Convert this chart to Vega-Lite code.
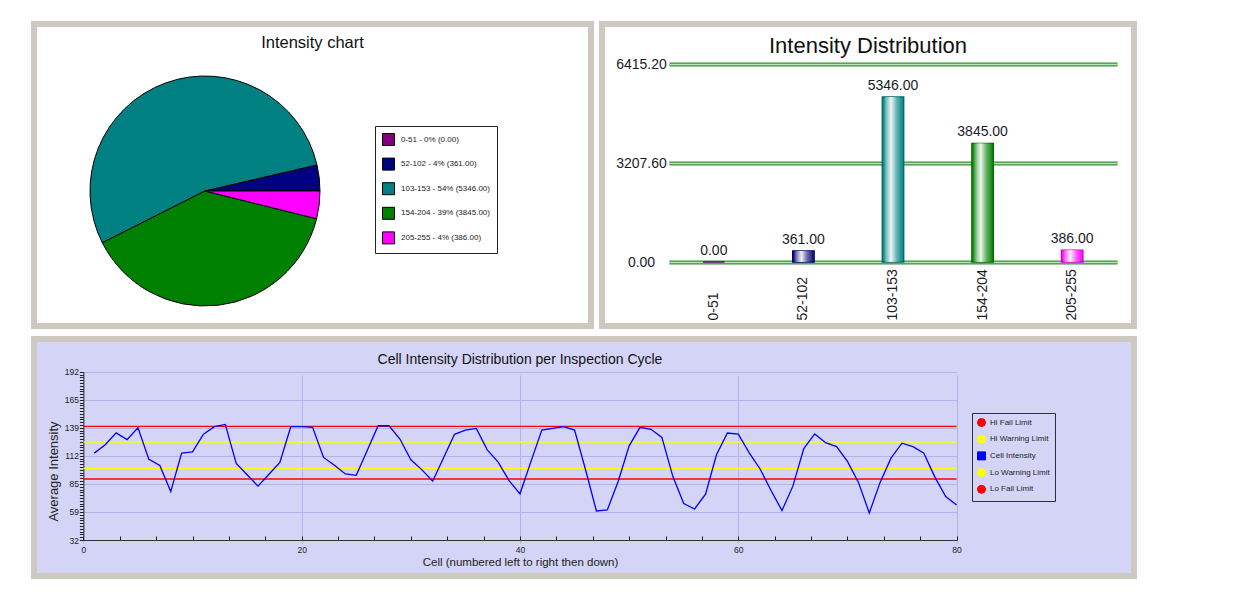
{
  "$schema": "https://vega.github.io/schema/vega-lite/v6.json",
  "background": "white",
  "padding": {"left": 31, "top": 21, "right": 5, "bottom": 5},
  "spacing": 7,
  "datasets": {
    "hist": [
      {"range": "0-51", "count": 0, "label": "0-51 - 0% (0.00)"},
      {"range": "52-102", "count": 361, "label": "52-102 - 4% (361.00)"},
      {"range": "103-153", "count": 5346, "label": "103-153 - 54% (5346.00)"},
      {"range": "154-204", "count": 3845, "label": "154-204 - 39% (3845.00)"},
      {"range": "205-255", "count": 386, "label": "205-255 - 4% (386.00)"}
    ],
    "cycle": [
      {"series": "Hi Fail Limit", "cell": 0, "value": 140},
      {"series": "Hi Fail Limit", "cell": 80, "value": 140},
      {"series": "Hi Warning Limit", "cell": 0, "value": 125},
      {"series": "Hi Warning Limit", "cell": 80, "value": 125},
      {"series": "Lo Warning Limit", "cell": 0, "value": 100},
      {"series": "Lo Warning Limit", "cell": 80, "value": 100},
      {"series": "Lo Fail Limit", "cell": 0, "value": 90},
      {"series": "Lo Fail Limit", "cell": 80, "value": 90},
      {"series": "Cell Intensity", "cell": 1, "value": 114.6},
      {"series": "Cell Intensity", "cell": 2, "value": 122.5},
      {"series": "Cell Intensity", "cell": 3, "value": 133.8},
      {"series": "Cell Intensity", "cell": 4, "value": 127.4},
      {"series": "Cell Intensity", "cell": 5, "value": 138.7},
      {"series": "Cell Intensity", "cell": 6, "value": 108.6},
      {"series": "Cell Intensity", "cell": 7, "value": 102.8},
      {"series": "Cell Intensity", "cell": 8, "value": 78.0},
      {"series": "Cell Intensity", "cell": 9, "value": 114.6},
      {"series": "Cell Intensity", "cell": 10, "value": 115.8},
      {"series": "Cell Intensity", "cell": 11, "value": 132.6},
      {"series": "Cell Intensity", "cell": 12, "value": 139.7},
      {"series": "Cell Intensity", "cell": 13, "value": 141.9},
      {"series": "Cell Intensity", "cell": 14, "value": 104.8},
      {"series": "Cell Intensity", "cell": 15, "value": 94.0},
      {"series": "Cell Intensity", "cell": 16, "value": 83.2},
      {"series": "Cell Intensity", "cell": 17, "value": 94.5},
      {"series": "Cell Intensity", "cell": 18, "value": 105.8},
      {"series": "Cell Intensity", "cell": 19, "value": 139.7},
      {"series": "Cell Intensity", "cell": 20, "value": 139.7},
      {"series": "Cell Intensity", "cell": 21, "value": 139.1},
      {"series": "Cell Intensity", "cell": 22, "value": 110.5},
      {"series": "Cell Intensity", "cell": 23, "value": 103.0},
      {"series": "Cell Intensity", "cell": 24, "value": 94.8},
      {"series": "Cell Intensity", "cell": 25, "value": 93.5},
      {"series": "Cell Intensity", "cell": 26, "value": 117.0},
      {"series": "Cell Intensity", "cell": 27, "value": 140.6},
      {"series": "Cell Intensity", "cell": 28, "value": 140.6},
      {"series": "Cell Intensity", "cell": 29, "value": 128.0},
      {"series": "Cell Intensity", "cell": 30, "value": 108.3},
      {"series": "Cell Intensity", "cell": 31, "value": 98.9},
      {"series": "Cell Intensity", "cell": 32, "value": 87.9},
      {"series": "Cell Intensity", "cell": 33, "value": 110.2},
      {"series": "Cell Intensity", "cell": 34, "value": 132.5},
      {"series": "Cell Intensity", "cell": 35, "value": 136.5},
      {"series": "Cell Intensity", "cell": 36, "value": 138.1},
      {"series": "Cell Intensity", "cell": 37, "value": 117.7},
      {"series": "Cell Intensity", "cell": 38, "value": 106.1},
      {"series": "Cell Intensity", "cell": 39, "value": 88.5},
      {"series": "Cell Intensity", "cell": 40, "value": 75.9},
      {"series": "Cell Intensity", "cell": 41, "value": 106.5},
      {"series": "Cell Intensity", "cell": 42, "value": 136.5},
      {"series": "Cell Intensity", "cell": 43, "value": 138.1},
      {"series": "Cell Intensity", "cell": 44, "value": 139.7},
      {"series": "Cell Intensity", "cell": 45, "value": 136.5},
      {"series": "Cell Intensity", "cell": 46, "value": 99.0},
      {"series": "Cell Intensity", "cell": 47, "value": 59.6},
      {"series": "Cell Intensity", "cell": 48, "value": 60.6},
      {"series": "Cell Intensity", "cell": 49, "value": 87.9},
      {"series": "Cell Intensity", "cell": 50, "value": 121.5},
      {"series": "Cell Intensity", "cell": 51, "value": 139.1},
      {"series": "Cell Intensity", "cell": 52, "value": 137.2},
      {"series": "Cell Intensity", "cell": 53, "value": 129.5},
      {"series": "Cell Intensity", "cell": 54, "value": 92.5},
      {"series": "Cell Intensity", "cell": 55, "value": 66.6},
      {"series": "Cell Intensity", "cell": 56, "value": 61.5},
      {"series": "Cell Intensity", "cell": 57, "value": 75.6},
      {"series": "Cell Intensity", "cell": 58, "value": 113.0},
      {"series": "Cell Intensity", "cell": 59, "value": 133.7},
      {"series": "Cell Intensity", "cell": 60, "value": 132.6},
      {"series": "Cell Intensity", "cell": 61, "value": 114.9},
      {"series": "Cell Intensity", "cell": 62, "value": 99.5},
      {"series": "Cell Intensity", "cell": 63, "value": 79.0},
      {"series": "Cell Intensity", "cell": 64, "value": 60.0},
      {"series": "Cell Intensity", "cell": 65, "value": 83.2},
      {"series": "Cell Intensity", "cell": 66, "value": 119.0},
      {"series": "Cell Intensity", "cell": 67, "value": 132.8},
      {"series": "Cell Intensity", "cell": 68, "value": 124.5},
      {"series": "Cell Intensity", "cell": 69, "value": 120.8},
      {"series": "Cell Intensity", "cell": 70, "value": 106.7},
      {"series": "Cell Intensity", "cell": 71, "value": 87.0},
      {"series": "Cell Intensity", "cell": 72, "value": 57.7},
      {"series": "Cell Intensity", "cell": 73, "value": 87.0},
      {"series": "Cell Intensity", "cell": 74, "value": 110.0},
      {"series": "Cell Intensity", "cell": 75, "value": 124.0},
      {"series": "Cell Intensity", "cell": 76, "value": 120.8},
      {"series": "Cell Intensity", "cell": 77, "value": 114.6},
      {"series": "Cell Intensity", "cell": 78, "value": 92.0},
      {"series": "Cell Intensity", "cell": 79, "value": 73.4},
      {"series": "Cell Intensity", "cell": 80, "value": 65.3}
    ]
  },
  "resolve": {"scale": {"color": "independent"}, "legend": {"color": "independent"}},
  "vconcat": [
    {
      "hconcat": [
        {
          "width": 557,
          "height": 302,
          "view": {"fill": "white", "stroke": "#cdc9c0", "strokeWidth": 6},
          "title": {"text": "Intensity chart", "fontSize": 16.5, "offset": -27},
          "data": {"name": "hist"},
          "mark": {"type": "arc", "radius": 115, "stroke": "black", "strokeWidth": 1},
          "encoding": {
            "theta": {"field": "count", "type": "quantitative", "stack": true, "scale": {"range": [1.342, 7.625]}},
            "order": {"field": "label", "type": "ordinal", "sort": "descending"},
            "x": {"datum": 0.307, "type": "quantitative", "scale": {"domain": [0, 1]}, "axis": null},
            "y": {"datum": 0.447, "type": "quantitative", "scale": {"domain": [0, 1]}, "axis": null},
            "color": {
              "field": "label",
              "type": "nominal",
              "sort": null,
              "scale": {"range": ["#800080", "#000080", "#008080", "#008000", "#ff00ff"]},
              "legend": {
                "orient": "none",
                "legendX": 341,
                "legendY": 102,
                "title": null,
                "fillColor": "white",
                "strokeColor": "#202020",
                "padding": 7,
                "rowPadding": 7.6,
                "symbolType": "square",
                "symbolSize": 144,
                "symbolStrokeColor": "black",
                "symbolStrokeWidth": 1,
                "labelFontSize": 8,
                "labelOffset": 6,
                "labelColor": "#222222"
              }
            }
          }
        },
        {
          "width": 532,
          "height": 302,
          "view": {"fill": "white", "stroke": "#cdc9c0", "strokeWidth": 6},
          "title": {"text": "Intensity Distribution", "fontSize": 22, "offset": -34},
          "data": {"name": "hist"},
          "encoding": {
            "x": {
              "field": "range",
              "type": "nominal",
              "sort": null,
              "scale": {"range": [67, 515], "paddingInner": 0, "paddingOuter": 0},
              "axis": {
                "orient": "bottom",
                "offset": -64,
                "title": null,
                "domain": false,
                "ticks": false,
                "labelAngle": -90,
                "labelAlign": "left",
                "labelBaseline": "middle",
                "labelPadding": 58,
                "labelFontSize": 14,
                "labelColor": "#1a1a2a",
                "labelOverlap": false
              }
            }
          },
          "layer": [
            {
              "mark": {"type": "bar", "width": 21.5, "strokeWidth": 1.3},
              "encoding": {
                "y": {
                  "field": "count",
                  "type": "quantitative",
                  "scale": {"domain": [0, 6415.2], "range": [238, 40], "nice": false},
                  "axis": {
                    "orient": "left",
                    "offset": -67,
                    "values": [0, 3207.6, 6415.2],
                    "format": ".2f",
                    "title": null,
                    "domain": false,
                    "ticks": false,
                    "labelAlign": "center",
                    "labelBaseline": "middle",
                    "labelPadding": 28,
                    "labelFontSize": 14,
                    "labelColor": "#1a1a2a",
                    "grid": true,
                    "gridColor": "#3a8f3a",
                    "gridWidth": 4
                  }
                },
                "color": {"field": "range", "type": "nominal", "sort": null, "scale": {"range": ["#800080", "#1a1a8a", "#138a8a", "#138a13", "#ff10ff"]}, "legend": null},
                "stroke": {"field": "range", "type": "nominal", "sort": null, "scale": {"range": ["#700070", "#000060", "#006868", "#006800", "#d000d0"]}, "legend": null}
              }
            },
            {
              "mark": {
                "type": "bar",
                "width": 19,
                "strokeWidth": 0,
                "color": {
                  "gradient": "linear",
                  "x1": 0, "y1": 0, "x2": 1, "y2": 0,
                  "stops": [
                    {"offset": 0, "color": "rgba(255,255,255,0)"},
                    {"offset": 0.15, "color": "rgba(255,255,255,0.45)"},
                    {"offset": 0.4, "color": "rgba(255,255,255,0.92)"},
                    {"offset": 0.7, "color": "rgba(255,255,255,0.35)"},
                    {"offset": 1, "color": "rgba(255,255,255,0)"}
                  ]
                }
              },
              "encoding": {
                "y": {
                  "field": "count",
                  "type": "quantitative",
                  "axis": {
                    "orient": "left",
                    "offset": -67,
                    "values": [0, 3207.6, 6415.2],
                    "title": null,
                    "domain": false,
                    "ticks": false,
                    "labels": false,
                    "grid": true,
                    "gridColor": "#b5e5b5",
                    "gridWidth": 1.5
                  }
                }
              }
            },
            {
              "mark": {"type": "text", "fontSize": 14, "baseline": "bottom", "dy": -4, "color": "#1a1a2a"},
              "encoding": {
                "y": {"field": "count", "type": "quantitative", "axis": null},
                "text": {"field": "count", "type": "quantitative", "format": ".2f"}
              }
            }
          ],
          "resolve": {"axis": {"y": "independent"}}
        }
      ],
      "spacing": 11,
      "bounds": "flush",
      "resolve": {"scale": {"color": "independent"}, "legend": {"color": "independent"}}
    },
    {
      "width": 1100,
      "height": 237,
      "view": {"fill": "#d4d4f6", "stroke": "#cdc9c0", "strokeWidth": 6},
      "title": {"text": "Cell Intensity Distribution per Inspection Cycle", "fontSize": 14, "offset": -28, "dx": -64},
      "data": {"name": "cycle"},
      "mark": {"type": "line", "strokeWidth": 1.3},
      "encoding": {
        "x": {
          "field": "cell",
          "type": "quantitative",
          "scale": {"domain": [0, 80], "range": [49.4, 922.6], "nice": false, "zero": false},
          "axis": {
            "offset": -36,
            "values": [0, 3.3333, 6.6667, 10, 13.3333, 16.6667, 20, 23.3333, 26.6667, 30, 33.3333, 36.6667, 40, 43.3333, 46.6667, 50, 53.3333, 56.6667, 60, 63.3333, 66.6667, 70, 73.3333, 76.6667, 80],
            "labelExpr": "abs(datum.value / 20 - round(datum.value / 20)) < 0.01 ? format(datum.value, 'd') : ''",
            "grid": true,
            "gridColor": "#b3b3ec",
            "gridOpacity": {"condition": {"test": "abs(datum.value / 20 - round(datum.value / 20)) < 0.01", "value": 1}, "value": 0},
            "tickSize": -4,
            "tickColor": "#222222",
            "domainColor": "#333333",
            "labelFontSize": 8.5,
            "labelPadding": 9,
            "labelColor": "#222222",
            "labelOverlap": false,
            "labelFlush": false,
            "title": "Cell (numbered left to right then down)",
            "titleFontSize": 11.5,
            "titleFontWeight": "normal",
            "titleColor": "#222222",
            "titlePadding": 3
          }
        },
        "y": {
          "field": "value",
          "type": "quantitative",
          "scale": {"domain": [32, 192], "range": [201, 32.7], "nice": false, "zero": false},
          "axis": {
            "offset": -49.4,
            "values": [32, 34.6667, 37.3333, 40, 42.6667, 45.3333, 48, 50.6667, 53.3333, 56, 58.6667, 61.3333, 64, 66.6667, 69.3333, 72, 74.6667, 77.3333, 80, 82.6667, 85.3333, 88, 90.6667, 93.3333, 96, 98.6667, 101.3333, 104, 106.6667, 109.3333, 112, 114.6667, 117.3333, 120, 122.6667, 125.3333, 128, 130.6667, 133.3333, 136, 138.6667, 141.3333, 144, 146.6667, 149.3333, 152, 154.6667, 157.3333, 160, 162.6667, 165.3333, 168, 170.6667, 173.3333, 176, 178.6667, 181.3333, 184, 186.6667, 189.3333, 192],
            "labelExpr": "abs((datum.value - 32) / 26.66667 - round((datum.value - 32) / 26.66667)) < 0.01 ? format(datum.value, '.0f') : ''",
            "grid": true,
            "gridColor": "#b3b3ec",
            "gridOpacity": {"condition": {"test": "abs((datum.value - 32) / 26.66667 - round((datum.value - 32) / 26.66667)) < 0.01", "value": 1}, "value": 0},
            "tickSize": 4,
            "tickColor": "#222222",
            "domainColor": "#333333",
            "labelFontSize": 8.5,
            "labelPadding": 1,
            "labelColor": "#222222",
            "labelOverlap": false,
            "labelFlush": false,
            "title": "Average Intensity",
            "titleFontSize": 13,
            "titleFontWeight": "normal",
            "titleColor": "#222222",
            "titlePadding": 4,
            "titleY": 132
          }
        },
        "color": {
          "field": "series",
          "type": "nominal",
          "scale": {
            "domain": ["Hi Fail Limit", "Hi Warning Limit", "Cell Intensity", "Lo Warning Limit", "Lo Fail Limit"],
            "range": ["#ff0000", "#ffff00", "#0000ff", "#ffff00", "#ff0000"]
          },
          "legend": {
            "orient": "none",
            "legendX": 938,
            "legendY": 74,
            "title": null,
            "fillColor": "#d4d4f6",
            "strokeColor": "#303030",
            "padding": 5,
            "rowPadding": 3.7,
            "symbolType": "circle",
            "symbolSize": 64,
            "labelFontSize": 8,
            "labelOffset": 4,
            "labelColor": "#222222",
            "encode": {
              "symbols": {
                "update": {
                  "shape": {"signal": "datum.value === 'Cell Intensity' ? 'square' : 'circle'"},
                  "fill": {"signal": "(datum.value === 'Hi Fail Limit' || datum.value === 'Lo Fail Limit') ? '#ff0000' : (datum.value === 'Cell Intensity' ? '#0000ff' : '#ffff00')"},
                  "stroke": {"value": "black"},
                  "strokeWidth": {"value": 1},
                  "opacity": {"value": 1}
                }
              }
            }
          }
        }
      }
    }
  ],
  "config": {
    "font": "Liberation Sans",
    "title": {"font": "Liberation Sans", "fontWeight": "normal", "color": "#111111"},
    "axis": {"labelFont": "Liberation Sans", "titleFont": "Liberation Sans"},
    "legend": {"labelFont": "Liberation Sans"}
  }
}
